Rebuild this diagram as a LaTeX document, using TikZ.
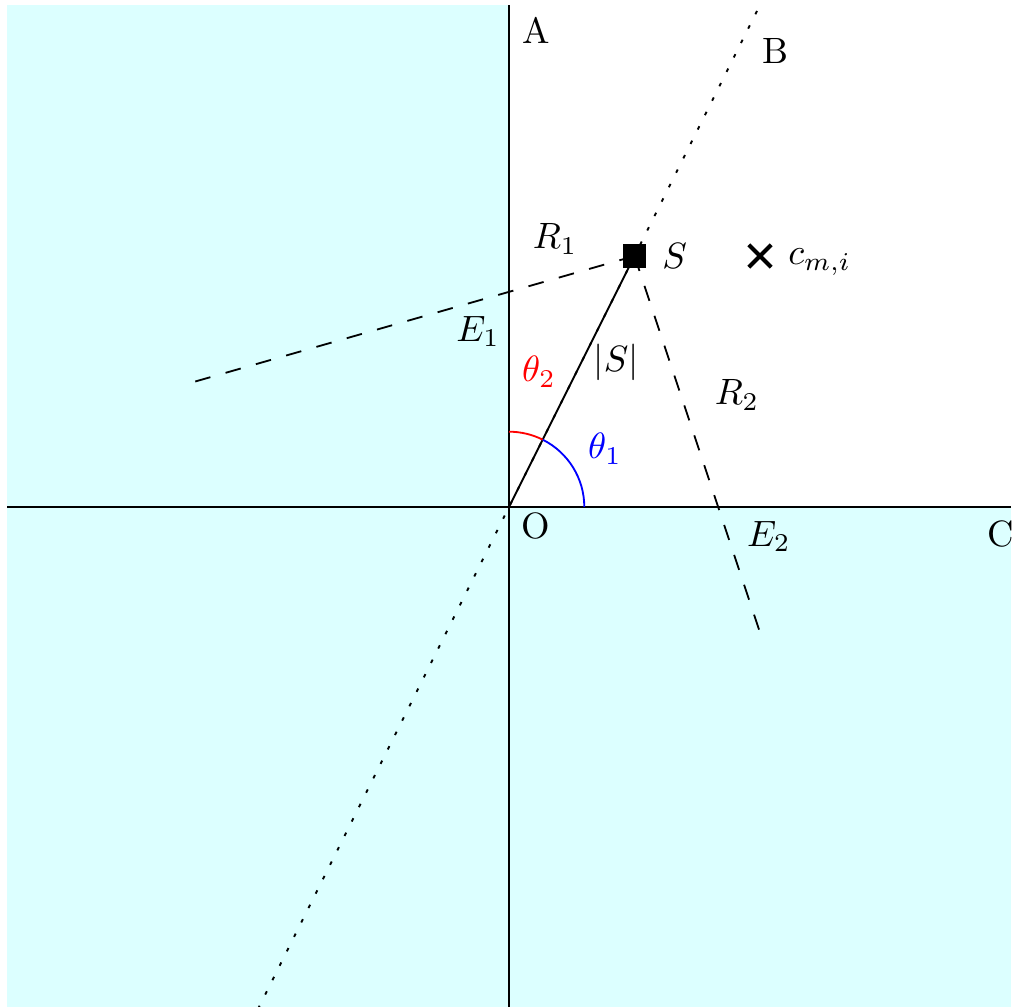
\documentclass[tikz,border=0pt]{standalone}
\usetikzlibrary{shapes.misc}
\definecolor{regioncyan}{RGB}{220,255,255}
\begin{document}
\begin{tikzpicture}[x=1.204cm,y=1.204cm,
  ln/.style={line width=0.5pt},
  dashln/.style={line width=0.5pt, dash pattern=on 4.3pt off 4.3pt},
  dotln/.style={line width=0.5pt, dash pattern=on 1pt off 3.4pt},
  lbl/.style={inner sep=0pt},
  region/.style={fill=regioncyan, draw=none}]
\useasboundingbox (-4.056,-3.984) rectangle (4.048,4.040);
% shaded regions
\fill[region] (-4,-4) rectangle (0,4);
\fill[region] (0,-4) rectangle (4,0);
% coordinates
\coordinate (O) at (0,0);
\coordinate (Atop) at (0,4);
\coordinate (Abot) at (0,-4);
\coordinate (Cl) at (-4,0);
\coordinate (Cr) at (4,0);
\coordinate (Btop) at (2,4);
\coordinate (Bbot) at (-2,-4);
\coordinate (Sp) at (1,2);
\coordinate (E1end) at (-2.5,1);
\coordinate (E2end) at (2,-1);
% axes
\draw[ln] (Cl) -- (Cr);
\draw[ln] (Abot) -- (Atop);
% dotted line B
\draw[dotln] (Bbot) -- (Btop);
% dashed rays
\draw[dashln] (Sp) -- (E1end);
\draw[dashln] (Sp) -- (E2end);
% OS
\draw[ln] (O) -- (Sp);
% angle arcs
\draw[ln, blue] (0.6,0) arc[start angle=0, end angle=63.43, radius=0.6];
\draw[ln, red] (63.43:0.6) arc[start angle=63.43, end angle=90, radius=0.6];
% S square
\node[fill=black, minimum size=6.5pt, inner sep=0pt] (S) at (Sp) {};
% cross c_{m,i}
\node[cross out, draw=black, line width=1.1pt, minimum size=5pt, inner sep=0pt] (cmi) at (2,2) {};
% labels
\node[lbl] (lA) at (0.215,3.80) {A};
\node[lbl] (lB) at (2.12,3.63) {B};
\node[lbl] (lC) at (3.92,-0.215) {C};
\node[lbl] (lO) at (0.215,-0.155) {O};
\node[lbl] (lS) at (1.32,2.0) {$S$};
\node[lbl, anchor=base west] (lc) at (2.22,1.93) {$c_{m,i}$};
\node[lbl] (lR1) at (0.367,2.135) {$R_1$};
\node[lbl] (lE1) at (-0.247,1.40) {$E_1$};
\node[lbl, red] (lt2) at (0.239,1.076) {$\theta_2$};
\node[lbl] (lSabs) at (0.853,1.155) {$|S|$};
\node[lbl, blue] (lt1) at (0.765,0.462) {$\theta_1$};
\node[lbl] (lR2) at (1.817,0.892) {$R_2$};
\node[lbl] (lE2) at (2.07,-0.235) {$E_2$};
\end{tikzpicture}
\end{document}
